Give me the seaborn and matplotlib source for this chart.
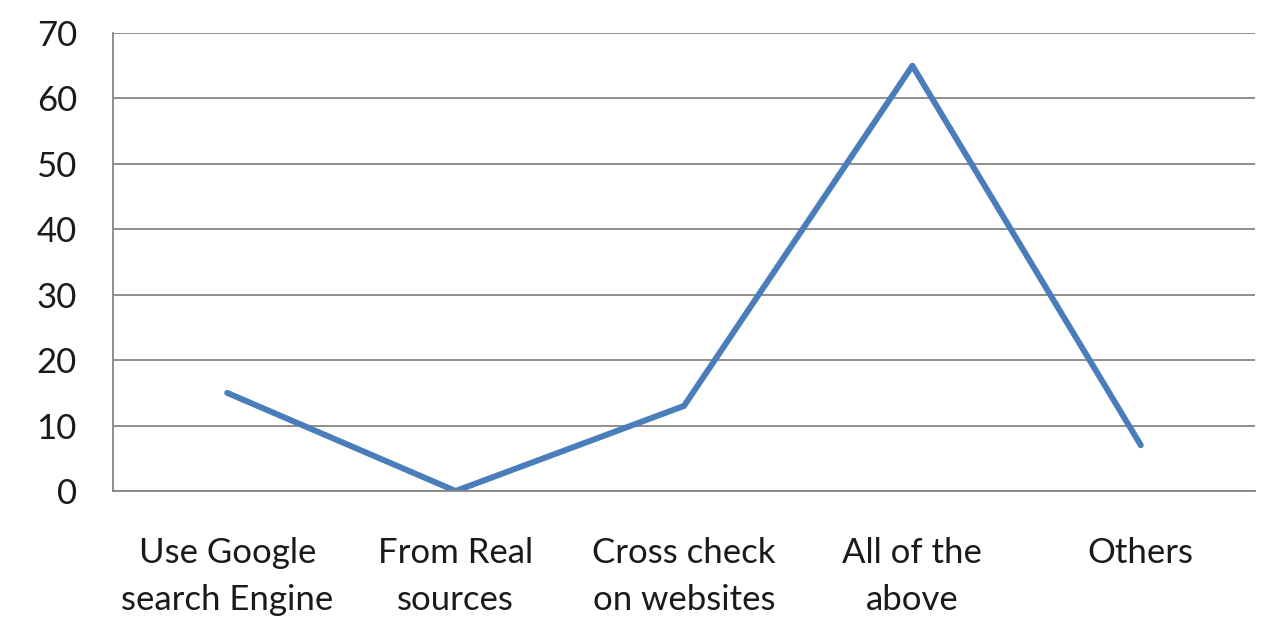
import matplotlib
matplotlib.use("Agg")
import matplotlib.pyplot as plt
import seaborn as sns
import pandas as pd

categories = ["Use Google\nsearch Engine", "From Real\nsources", "Cross check\non websites", "All of the\nabove", "Others"]
values = [15, 0, 13, 65, 7]
yticks = [0, 10, 20, 30, 40, 50, 60, 70]

sns.set_theme(style="white")
plt.rcParams['font.family'] = ['Lato', 'DejaVu Sans']

df = pd.DataFrame({"cat": categories, "val": values})
fig = plt.figure(figsize=(12.68, 6.29), dpi=100)
ax = fig.add_axes([113/1268, 1-491/629, (1255-113)/1268, (491-33)/629])
sns.lineplot(data=df, x="cat", y="val", ax=ax, color="#4a7ebb", linewidth=4.3, sort=False)
ax.set_ylim(0, 70)
ax.set_xlim(-0.5, 4.5)
ax.set_yticks(yticks)
ax.yaxis.grid(True, color="#868686", linewidth=1.3)
ax.set_axisbelow(True)
for s in ["top", "right"]:
    ax.spines[s].set_visible(False)
for s in ["left", "bottom"]:
    ax.spines[s].set_color("#868686")
    ax.spines[s].set_linewidth(1.3)
ax.tick_params(axis="y", length=0, pad=26, labelsize=25, labelcolor="#1a1a1a")
ax.tick_params(axis="x", length=0, pad=33, labelsize=25, labelcolor="#1a1a1a")
ax.set_xlabel("")
ax.set_ylabel("")
ax.set_xticks(range(len(categories)))
ax.set_xticklabels(categories, linespacing=1.58)
fig.canvas.draw()
for t in ax.get_xticklabels():
    t.set_linespacing(1.58)
fig.savefig("out.png", dpi=100)
